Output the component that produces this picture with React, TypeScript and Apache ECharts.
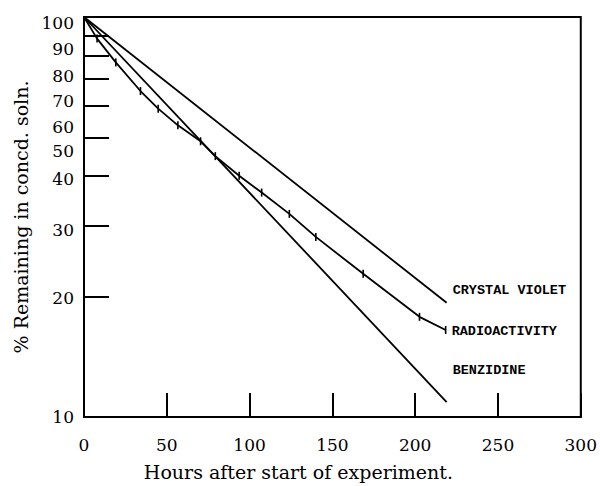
import React, { useEffect, useRef } from "react";
import * as echarts from "echarts";

// Hours after start of experiment / % remaining in concentrated solution
const crystalVioletHours = [0, 219];
const crystalVioletPct = [100, 19.3];

const benzidineHours = [0, 219];
const benzidinePct = [100, 10.9];

const radioHours = [0, 7.9, 19.2, 34.1, 44.8, 56.7, 70.4, 79.3, 93.7, 107.3, 124.0, 140.0, 168.6, 202.6, 218.4];
const radioPct = [100, 88.3, 77.0, 65.3, 59.0, 53.6, 48.9, 44.9, 40.1, 36.4, 32.2, 28.2, 22.8, 17.8, 16.5];

const yTickValues = [10, 20, 30, 40, 50, 60, 70, 80, 90, 100];
const xTickValues = [0, 50, 100, 150, 200, 250, 300];

const SERIF = "DejaVu Serif";
const MONO = "Liberation Mono";

// typeset offset (px, downwards) of each y label in the original print
const yLabelShift: Record<number, number> = { 100: 6, 90: 14, 80: 20, 70: 22, 60: 21, 50: 14, 40: 3, 30: 4, 20: 1, 10: 0 };

export default function App() {
  const ref = useRef<HTMLDivElement>(null);

  useEffect(() => {
    document.body.style.margin = "0";
    if (!ref.current) return;
    const chart = echarts.init(ref.current, null, { renderer: "svg" });

    const pair = (xs: number[], ys: number[]) => xs.map((x, i) => [x, ys[i]]);

    const labelStyle = {
      fontFamily: MONO,
      fontWeight: "bold" as const,
      fontSize: 13.5,
      color: "#000",
      align: "left" as const,
    };

    const rich: Record<string, any> = {};
    yTickValues.forEach((v) => {
      rich["s" + v] = {
        fontFamily: SERIF,
        fontSize: 17,
        color: "#000",
        padding: [2 * (yLabelShift[v] || 0), 0, 0, 0],
      };
    });

    chart.setOption({
      animation: false,
      backgroundColor: "#fff",
      grid: {
        left: 84,
        right: 12,
        top: 17,
        bottom: 63,
        show: true,
        borderColor: "#000",
        borderWidth: 2,
      },
      xAxis: {
        type: "value",
        min: 0,
        max: 300,
        interval: 50,
        name: "Hours after start of experiment.",
        nameLocation: "middle",
        nameGap: 45,
        nameTextStyle: {
          fontFamily: SERIF,
          fontSize: 19,
          color: "#000",
          padding: [0, 68, 0, 0],
        },
        axisLine: { lineStyle: { color: "#000", width: 2 } },
        axisTick: {
          inside: true,
          length: 24,
          customValues: xTickValues,
          lineStyle: { color: "#000", width: 2 },
        },
        axisLabel: {
          margin: 19,
          fontFamily: SERIF,
          fontSize: 17,
          color: "#000",
        },
        splitLine: { show: false },
      },
      yAxis: {
        type: "log",
        logBase: 10,
        min: 10,
        max: 100,
        name: "% Remaining in concd. soln.",
        nameLocation: "middle",
        nameGap: 50,
        nameTextStyle: {
          fontFamily: SERIF,
          fontSize: 19,
          color: "#000",
        },
        axisLine: { lineStyle: { color: "#000", width: 2 } },
        axisTick: {
          inside: true,
          length: 25,
          customValues: yTickValues,
          lineStyle: { color: "#000", width: 2 },
        },
        axisLabel: {
          customValues: yTickValues,
          margin: 10,
          fontFamily: SERIF,
          fontSize: 17,
          color: "#000",
          formatter: (v: number) => `{s${Math.round(v)}|${Math.round(v)}}`,
          rich,
        },
        splitLine: { show: false },
      },
      series: [
        {
          name: "CRYSTAL VIOLET",
          type: "line",
          data: pair(crystalVioletHours, crystalVioletPct),
          showSymbol: false,
          lineStyle: { color: "#000", width: 1.8 },
          endLabel: {
            show: true,
            formatter: "{a}",
            distance: 6,
            offset: [0, -12],
            ...labelStyle,
          },
        },
        {
          name: "RADIOACTIVITY",
          type: "line",
          data: pair(radioHours, radioPct).map((v, i) =>
            i === 0 ? { value: v, symbol: "none" } : { value: v }
          ),
          symbol: "rect",
          symbolSize: [1.6, 8],
          itemStyle: { color: "#000" },
          lineStyle: { color: "#000", width: 1.8 },
          endLabel: {
            show: true,
            formatter: "{a}",
            distance: 6,
            offset: [0, 1],
            ...labelStyle,
          },
        },
        {
          name: "BENZIDINE",
          type: "line",
          data: pair(benzidineHours, benzidinePct),
          showSymbol: false,
          lineStyle: { color: "#000", width: 1.8 },
          endLabel: {
            show: true,
            formatter: "{a}",
            distance: 6,
            offset: [0, -32],
            ...labelStyle,
          },
        },
      ],
    });

    return () => chart.dispose();
  }, []);

  return <div ref={ref} style={{ width: 600, height: 486 }} />;
}
